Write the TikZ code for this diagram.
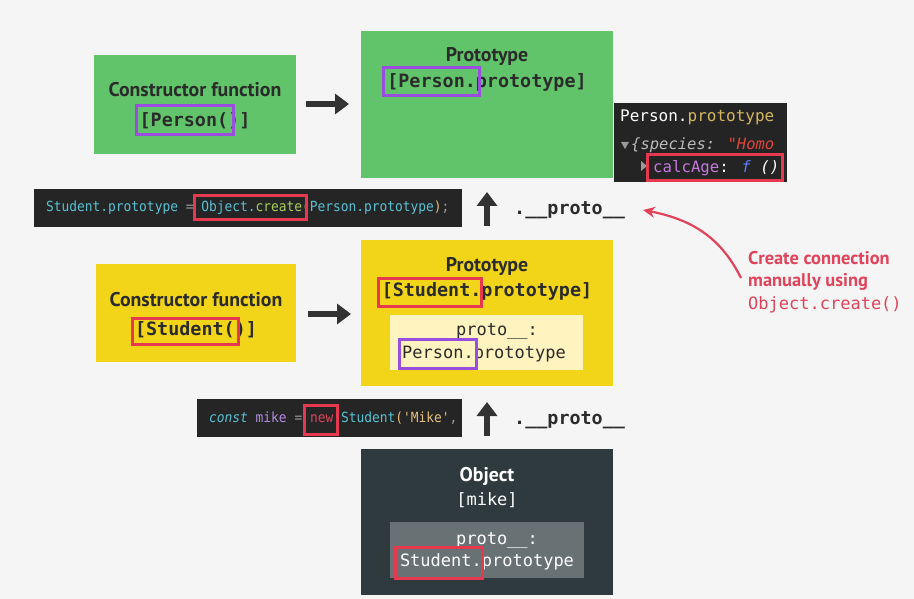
\documentclass[tikz,border=0pt]{standalone}
\usepackage{fontspec}
\usetikzlibrary{arrows.meta}
\newfontfamily\headfont{PT Sans}
\newfontfamily\codefont[Ligatures=TeXOff]{DejaVu Sans Mono}
\newfontfamily\condcode[Ligatures=TeXOff,FakeStretch=0.92]{DejaVu Sans Mono}
\definecolor{bgc}{HTML}{F5F5F5}
\definecolor{greenc}{HTML}{62C46A}
\definecolor{yellowc}{HTML}{F2D518}
\definecolor{lightyel}{HTML}{FFF3C0}
\definecolor{darkobj}{HTML}{2F3A3E}
\definecolor{grayin}{HTML}{687174}
\definecolor{codebg}{HTML}{252526}
\definecolor{devbg}{HTML}{242424}
\definecolor{hlred}{HTML}{E6394F}
\definecolor{hlpurple}{HTML}{9B4DE0}
\definecolor{txtred}{HTML}{E0435A}
\definecolor{txtdark}{HTML}{2B2B2B}
\definecolor{arrowc}{HTML}{333333}
\definecolor{cyanc}{HTML}{56C2D4}
\definecolor{greencode}{HTML}{A6CF5A}
\definecolor{yelcode}{HTML}{E5C07B}
\definecolor{purpcode}{HTML}{B28CE0}
\definecolor{graycode}{HTML}{9A9A9A}
\definecolor{devyel}{HTML}{D4B860}
\definecolor{devmag}{HTML}{C678DD}
\definecolor{devblue}{HTML}{5C7CFA}
\definecolor{devred}{HTML}{E0453C}
\definecolor{devgray}{HTML}{BBBBBB}
\begin{document}
\begin{tikzpicture}[x=1pt,y=-1pt,
  box/.style={inner sep=0pt,draw=none},
  head/.style={inner sep=0pt,font=\fontsize{19.8}{22}\selectfont\headfont\bfseries,text=txtdark},
  monob/.style={inner sep=0pt,font=\fontsize{18.4}{20}\selectfont\codefont\bfseries,text=txtdark},
  monor/.style={inner sep=0pt,font=\fontsize{17}{20}\selectfont\codefont,text=txtdark},
  codetxt/.style={inner sep=0pt,anchor=west,font=\fontsize{14}{16}\selectfont\condcode},
  devtxt/.style={inner sep=0pt,anchor=west,font=\fontsize{15.7}{18}\selectfont\codefont},
  hlr/.style={draw=hlred,line width=3pt},
  hlp/.style={draw=hlpurple,line width=3pt},
  bigarrow/.style={draw=arrowc,line width=6pt,-{Triangle[length=14pt,width=20pt]}},
  redtxt/.style={inner sep=0pt,anchor=west,text=txtred,font=\fontsize{18.4}{20}\selectfont\headfont\bfseries},
  redmono/.style={inner sep=0pt,anchor=west,text=txtred,font=\fontsize{17}{20}\selectfont\codefont}
]
\fill[bgc] (0,0) rectangle (914,599);
\useasboundingbox (0,0) rectangle (914,599);

% ---- boxes
\node[box,fill=greenc,minimum width=202pt,minimum height=99pt] (pcon) at (195,104.5) {};
\node[box,fill=greenc,minimum width=252pt,minimum height=147pt] (pproto) at (487,104.5) {};
\node[box,fill=devbg,minimum width=173pt,minimum height=79pt] (dev) at (700.5,142.5) {};
\node[box,fill=codebg,minimum width=428pt,minimum height=38pt] (code1) at (248,208) {};
\node[box,fill=yellowc,minimum width=200pt,minimum height=98pt] (scon) at (196,313) {};
\node[box,fill=yellowc,minimum width=252pt,minimum height=146pt] (sproto) at (487,313) {};
\node[box,fill=lightyel,minimum width=193pt,minimum height=55pt] (sinner) at (486.5,342.5) {};
\node[box,fill=codebg,minimum width=265pt,minimum height=38pt] (code2) at (329.5,418) {};
\node[box,fill=darkobj,minimum width=252pt,minimum height=146pt] (mike) at (487,522) {};
\node[box,fill=grayin,minimum width=194pt,minimum height=56pt] (minner) at (487,550) {};

% ---- Person constructor
\node[head] (pcont) at (195,90) {Constructor function};
\node[monob] (pconc) at (195,121) {[Person()]};
\draw[hlp] (136,106) rectangle (233,135);

% ---- Person prototype
\node[head] (pprott) at (487,57) {Prototype};
\node[monob] (pprotc) at (487,82) {[Person.prototype]};
\draw[hlp] (383,68) rectangle (479,96);

% ---- devtools
\node[devtxt,font=\fontsize{16}{18}\selectfont\codefont] (dev1) at (620,117) {\textcolor{white}{Person.}\textcolor{devyel}{prototype}};
\fill[graycode] (621,142) -- (629,142) -- (625,149) -- cycle;
\node[devtxt,font=\fontsize{15.5}{18}\selectfont\codefont] (dev2) at (631,145) {\itshape\textcolor{devgray}{\{species: }\textcolor{devred}{"Homo}};
\fill[graycode] (641,161) -- (641,171) -- (647,166) -- cycle;
\node[devtxt] (dev3) at (653,168) {\textcolor{devmag}{calcAge}\textcolor{white}{: }\textcolor{devblue}{\itshape f}\textcolor{white}{\itshape{} ()}};
\draw[hlr] (647,155) rectangle (782,181);

% ---- code bar 1
\node[codetxt] (code1t) at (46,208) {\textcolor{cyanc}{Student.prototype} \textcolor{graycode}{=} \textcolor{cyanc}{Object.}\textcolor{greencode}{create}\textcolor{yelcode}{(}\textcolor{cyanc}{Person.prototype}\textcolor{yelcode}{)}\textcolor{graycode}{;}};
\draw[hlr] (194,196) rectangle (306,220);

% ---- proto labels and up arrows
\coordinate (u1s) at (487,226);
\coordinate (u1e) at (487,192);
\draw[bigarrow] (u1s) -- (u1e);
\node[monob,anchor=west] (proto1) at (514,210) {.\_\_proto\_\_};
\coordinate (u2s) at (487,436);
\coordinate (u2e) at (487,402);
\draw[bigarrow] (u2s) -- (u2e);
\node[monob,anchor=west] (proto2) at (514,420) {.\_\_proto\_\_};

% ---- right arrows
\coordinate (r1s) at (306,104);
\coordinate (r1e) at (349,104);
\draw[bigarrow] (r1s) -- (r1e);
\coordinate (r2s) at (308,314);
\coordinate (r2e) at (351,314);
\draw[bigarrow] (r2s) -- (r2e);

% ---- red annotation
\node[redtxt] (ann1) at (748,258) {Create connection};
\node[redtxt] (ann2) at (748,282) {manually using};
\node[redmono] (ann3) at (748,305) {Object.create()};
\coordinate (cs) at (741,278);
\coordinate (ce) at (643,210);
\draw[txtred,line width=2.2pt,-{Stealth[length=12pt,width=11pt]}] (cs) .. controls (722,240) and (695,220) .. (ce);

% ---- Student constructor
\node[head] (scont) at (196,300) {Constructor function};
\node[monob] (sconc) at (196,330) {[Student()]};
\draw[hlr] (132,318) rectangle (238,344);

% ---- Student prototype
\node[head] (sprott) at (487,266) {Prototype};
\node[monob] (sprotc) at (487,291) {[Student.prototype]};
\draw[hlr] (378,278) rectangle (481,306);
\node[monor] (sin1) at (497,332) {proto\_\_:};
\node[monor] (sin2) at (484,354) {Person.prototype};
\draw[hlp] (399,339) rectangle (476,368);

% ---- code bar 2
\node[codetxt] (code2t) at (209,418) {\textcolor{cyanc}{\itshape const} \textcolor{purpcode}{mike} \textcolor{graycode}{=} \textcolor{txtred}{new} \textcolor{cyanc}{Student}\textcolor{yelcode}{('Mike'}\textcolor{graycode}{,}};
\draw[hlr] (304,405) rectangle (337,434);

% ---- object mike
\node[head,text=white] (mikt) at (487,476) {Object};
\node[monor,text=white] (mikc) at (487,500) {[mike]};
\node[monor,text=white] (min1) at (497,541) {proto\_\_:};
\node[monor,text=white] (min2) at (487,562) {Student.prototype};
\draw[hlr] (395,547) rectangle (482,578);
\end{tikzpicture}
\end{document}
